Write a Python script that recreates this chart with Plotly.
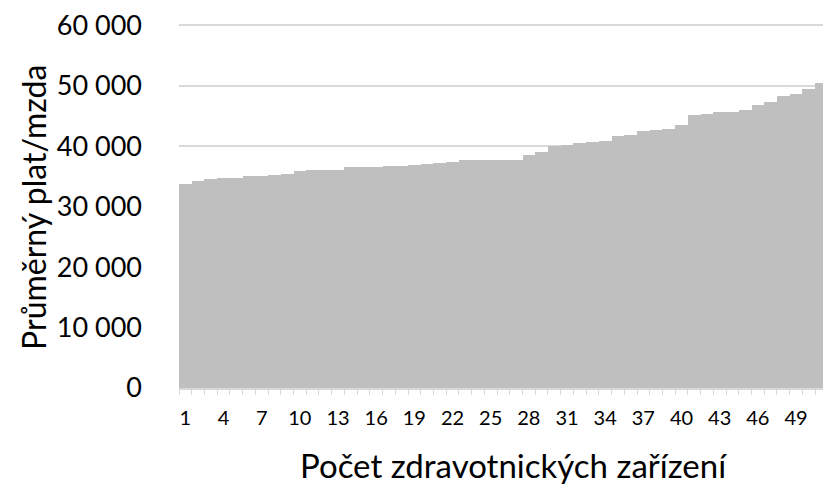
import plotly.graph_objects as go

# sorted average salary per facility (one bar per facility)
facility_no = list(range(1, 52))
avg_salary = [
    33660, 34260, 34540, 34710, 34750, 35090, 35100, 35200, 35420, 35970,
    36050, 36080, 36100, 36580, 36590, 36630, 36640, 36740, 36960, 37070,
    37130, 37400, 37680, 37690, 37730, 37740, 37750, 38610, 39110, 40100,
    40120, 40600, 40620, 40830, 41650, 41870, 42530, 42750, 42760, 43570,
    45120, 45340, 45620, 45650, 45950, 46880, 47270, 48260, 48600, 49470,
    50410,
]
y_ticks = [0, 10000, 20000, 30000, 40000, 50000, 60000]

FONT = "Lato"
GRID = "#D9D9D9"

fig = go.Figure()
fig.add_trace(go.Bar(x=facility_no, y=avg_salary, marker_color="#BFBFBF",
                     marker_line_width=0))

fig.update_layout(
    width=823, height=486,
    margin=dict(l=179, r=0, t=24, b=98),
    paper_bgcolor="white", plot_bgcolor="white",
    bargap=0, showlegend=False,
    separators=", ",
    font=dict(family=FONT, color="black"),
)

# range goes a little past 60 000 so the top gridline is still drawn
fig.update_yaxes(range=[0, 60200], tickvals=y_ticks, tickformat=",d",
                 showgrid=True, gridcolor=GRID, gridwidth=1.5,
                 zeroline=False, showline=False, ticks="",
                 ticklabelstandoff=36, ticklabeloverflow="allow",
                 tickfont=dict(family=FONT, size=27, color="black"))

fig.update_xaxes(range=[0.5, 51.12], tick0=1, dtick=3, ticks="",
                 showgrid=False, zeroline=False,
                 showline=True, linecolor=GRID, linewidth=1.5,
                 ticklabelstandoff=11,
                 tickfont=dict(family=FONT, size=20, color="black"),
                 minor=dict(tick0=0.5, dtick=1, ticks="outside", ticklen=5,
                            tickcolor=GRID, tickwidth=1, showgrid=False))

fig.add_annotation(text="Průměrný plat/mzda", xref="paper", yref="paper",
                   x=-0.227, y=0.497, xanchor="center", yanchor="middle",
                   textangle=-90, showarrow=False,
                   font=dict(family=FONT, size=32, color="black"))
fig.add_annotation(text="Počet zdravotnických zařízení", xref="paper", yref="paper",
                   x=0.519, y=-0.2115, xanchor="center", yanchor="middle",
                   showarrow=False,
                   font=dict(family=FONT, size=33, color="black"))

# drop the default page margin so the figure fills the window
fig.write_html("out.html", config={"displayModeBar": False},
               post_script="document.body.style.margin='0';"
                           "document.body.style.overflow='hidden';")
